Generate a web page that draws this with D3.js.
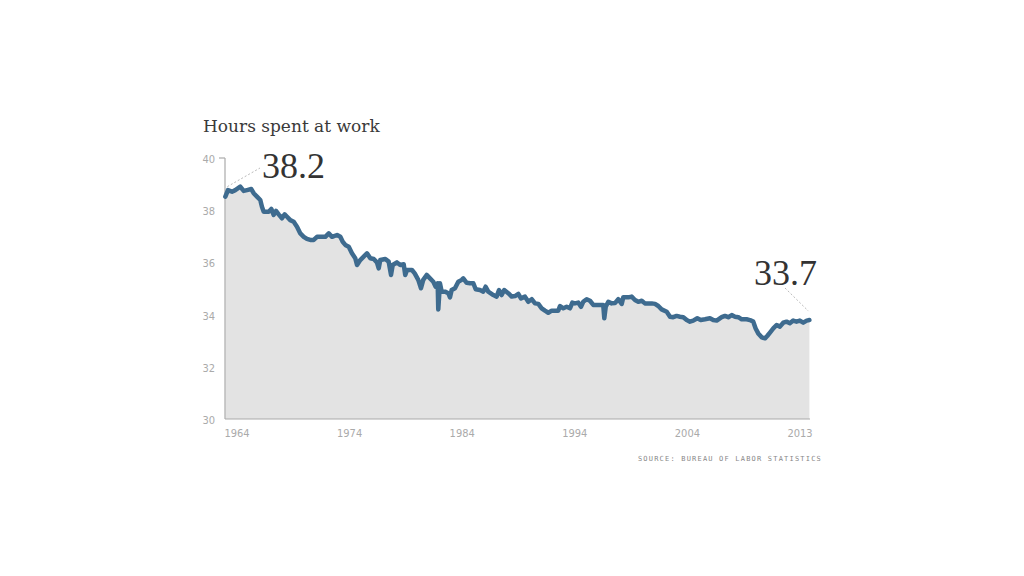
<!DOCTYPE html>
<html>
<head>
<meta charset="utf-8">
<script src="https://cdn.jsdelivr.net/npm/d3@7"></script>
<style>
  html, body { margin: 0; padding: 0; background: #fff; }
  svg { display: block; }
</style>
</head>
<body>
<svg id="chart" width="1024" height="576"></svg>
<script>
const title = "Hours spent at work";
const source = "SOURCE: BUREAU OF LABOR STATISTICS";
const yTicks = [30, 32, 34, 36, 38, 40];
const xTickLabels = ["1964", "1974", "1984", "1994", "2004", "2013"];
const startLabel = "38.2";
const endLabel = "33.7";

const years = [
  1964.03,1964.25,1964.59,1964.87,1965.29,1965.58,1965.86,1966.22,1966.42,1966.70,
  1966.98,1967.12,1967.27,1967.69,1967.91,1968.11,1968.31,1968.53,1968.81,1969.04,
  1969.24,1969.51,1969.80,1970.08,1970.36,1970.65,1970.92,1971.20,1971.49,1971.77,
  1972.19,1972.47,1972.76,1973.04,1973.46,1973.74,1973.94,1974.16,1974.45,1974.72,
  1975.00,1975.15,1975.42,1975.71,1975.99,1976.27,1976.56,1976.83,1976.98,1977.11,
  1977.54,1977.82,1978.02,1978.16,1978.52,1978.80,1979.09,1979.22,1979.37,1979.79,
  1980.02,1980.32,1980.55,1980.74,1981.03,1981.31,1981.59,1981.79,1981.96,1982.01,
  1982.15,1982.30,1982.58,1982.86,1983.00,1983.14,1983.42,1983.70,1983.99,1984.12,
  1984.41,1984.69,1984.97,1985.17,1985.53,1985.81,1986.01,1986.23,1986.66,1986.94,
  1987.14,1987.36,1987.58,1987.92,1988.21,1988.49,1988.77,1988.99,1989.33,1989.61,
  1989.90,1990.18,1990.46,1990.74,1991.02,1991.30,1991.59,1991.87,1992.14,1992.29,
  1992.57,1992.85,1993.13,1993.33,1993.55,1993.83,1994.06,1994.25,1994.54,1994.82,
  1995.10,1995.39,1995.67,1995.94,1996.03,1996.15,1996.37,1996.65,1996.93,1997.21,
  1997.50,1997.63,1998.06,1998.34,1998.62,1998.90,1999.19,1999.46,1999.74,2000.03,
  2000.31,2000.59,2000.87,2001.30,2001.58,2001.85,2002.14,2002.42,2002.70,2002.99,
  2003.26,2003.54,2003.88,2004.17,2004.53,2004.95,2005.23,2005.52,2005.94,2006.22,
  2006.50,2006.79,2007.07,2007.35,2007.63,2008.05,2008.33,2008.61,2008.81,2009.03,
  2009.32,2009.60,2009.79,2010.02,2010.30,2010.58,2010.86,2011.14,2011.42,2011.70,
  2011.98,2012.26,2012.54,2012.83,2013.12,2013.35
];
const hours = [
  38.52,38.77,38.71,38.77,38.90,38.74,38.77,38.81,38.65,38.52,
  38.39,38.13,37.94,37.94,38.05,37.82,37.97,37.84,37.69,37.84,
  37.75,37.62,37.56,37.37,37.11,36.98,36.90,36.86,36.86,36.98,
  36.98,36.98,37.11,36.98,37.05,36.98,36.79,36.67,36.60,36.35,
  36.16,35.90,36.09,36.22,36.35,36.16,36.13,36.00,35.77,36.09,
  36.13,36.03,35.52,35.90,36.00,35.90,35.93,35.52,35.71,35.71,
  35.58,35.33,35.01,35.33,35.52,35.39,35.26,35.07,35.20,34.20,
  35.20,34.88,34.88,34.82,34.66,34.94,35.01,35.26,35.33,35.39,
  35.22,35.20,35.20,34.97,34.94,34.88,35.07,34.88,34.75,34.69,
  34.94,34.75,34.94,34.82,34.69,34.71,34.79,34.62,34.69,34.49,
  34.59,34.43,34.41,34.24,34.15,34.07,34.15,34.15,34.15,34.33,
  34.24,34.30,34.24,34.46,34.43,34.46,34.30,34.49,34.59,34.53,
  34.37,34.37,34.37,34.37,33.86,34.30,34.49,34.43,34.44,34.59,
  34.41,34.66,34.66,34.69,34.56,34.49,34.53,34.43,34.43,34.43,
  34.41,34.33,34.20,34.11,33.92,33.90,33.95,33.92,33.90,33.79,
  33.73,33.77,33.86,33.79,33.82,33.86,33.79,33.77,33.90,33.95,
  33.90,33.98,33.92,33.90,33.82,33.82,33.79,33.73,33.47,33.28,
  33.13,33.09,33.18,33.31,33.47,33.60,33.54,33.69,33.73,33.67,
  33.77,33.73,33.77,33.69,33.77,33.79
];

const data = years.map((yr, i) => ({ year: yr, value: hours[i] }));

const svg = d3.select("#chart");
const plotLeft = 225, plotRight = 810, plotTop = 158, plotBottom = 419;

const x = d3.scaleLinear().domain([1964, 2013.4]).range([plotLeft, plotRight]);
const y = d3.scaleLinear().domain([30, 40]).range([plotBottom, plotTop]);
const xl = d3.scalePoint().domain(xTickLabels).range([237, 800]);

const narrow = "'Liberation Sans Narrow', 'DejaVu Sans Condensed', 'Roboto', sans-serif";

// title
svg.append("text")
  .attr("x", 203).attr("y", 132)
  .attr("font-family", "'DejaVu Serif', serif")
  .attr("font-size", 17)
  .attr("fill", "#3a3a3a")
  .text(title);

// area
svg.append("path")
  .datum(data)
  .attr("fill", "#e3e3e3")
  .attr("d", d3.area().x(d => x(d.year)).y0(y(30)).y1(d => y(d.value)));

// axes lines
svg.append("line").attr("x1", plotLeft).attr("x2", plotLeft).attr("y1", plotTop).attr("y2", plotBottom)
  .attr("stroke", "#aaa").attr("stroke-width", 1.2);
svg.append("line").attr("x1", plotLeft).attr("x2", plotRight).attr("y1", plotBottom).attr("y2", plotBottom)
  .attr("stroke", "#aaa").attr("stroke-width", 1.2);
svg.append("line").attr("x1", plotLeft - 6).attr("x2", plotLeft).attr("y1", y(40)).attr("y2", y(40))
  .attr("stroke", "#aaa").attr("stroke-width", 1.2);

// y tick labels
svg.append("g").selectAll("text").data(yTicks).join("text")
  .attr("x", 215).attr("y", d => y(d) + 5)
  .attr("text-anchor", "end")
  .attr("font-family", narrow).attr("font-size", 11)
  .attr("fill", "#aaa")
  .text(d => d);

// x tick labels
svg.append("g").selectAll("text").data(xTickLabels).join("text")
  .attr("x", d => xl(d)).attr("y", 437)
  .attr("text-anchor", "middle")
  .attr("font-family", narrow).attr("font-size", 11)
  .attr("fill", "#aaa")
  .text(d => d);

// line
svg.append("path")
  .datum(data)
  .attr("fill", "none")
  .attr("stroke", "#3e6b8f")
  .attr("stroke-width", 4.5)
  .attr("stroke-linejoin", "round")
  .attr("stroke-linecap", "round")
  .attr("d", d3.line().x(d => x(d.year)).y(d => y(d.value)));

// annotations
const first = data[0], last = data[data.length - 1];
svg.append("line")
  .attr("x1", x(first.year) + 2).attr("y1", y(first.value) - 10)
  .attr("x2", 260).attr("y2", 168)
  .attr("stroke", "#bbb").attr("stroke-width", 1).attr("stroke-dasharray", "2,2");
svg.append("text")
  .attr("x", 262).attr("y", 178)
  .attr("font-family", "'Liberation Serif', serif").attr("font-size", 36)
  .attr("fill", "#333")
  .text(startLabel);

svg.append("line")
  .attr("x1", 785).attr("y1", 288)
  .attr("x2", x(last.year) - 1).attr("y2", y(last.value) - 9)
  .attr("stroke", "#bbb").attr("stroke-width", 1).attr("stroke-dasharray", "2,2");
svg.append("text")
  .attr("x", 754).attr("y", 285)
  .attr("font-family", "'Liberation Serif', serif").attr("font-size", 36)
  .attr("fill", "#333")
  .text(endLabel);

// source
svg.append("text")
  .attr("x", 822).attr("y", 461)
  .attr("text-anchor", "end")
  .attr("font-family", "'DejaVu Sans Mono', monospace").attr("font-size", 7)
  .attr("letter-spacing", 1.2)
  .attr("fill", "#888")
  .text(source);
</script>
</body>
</html>
